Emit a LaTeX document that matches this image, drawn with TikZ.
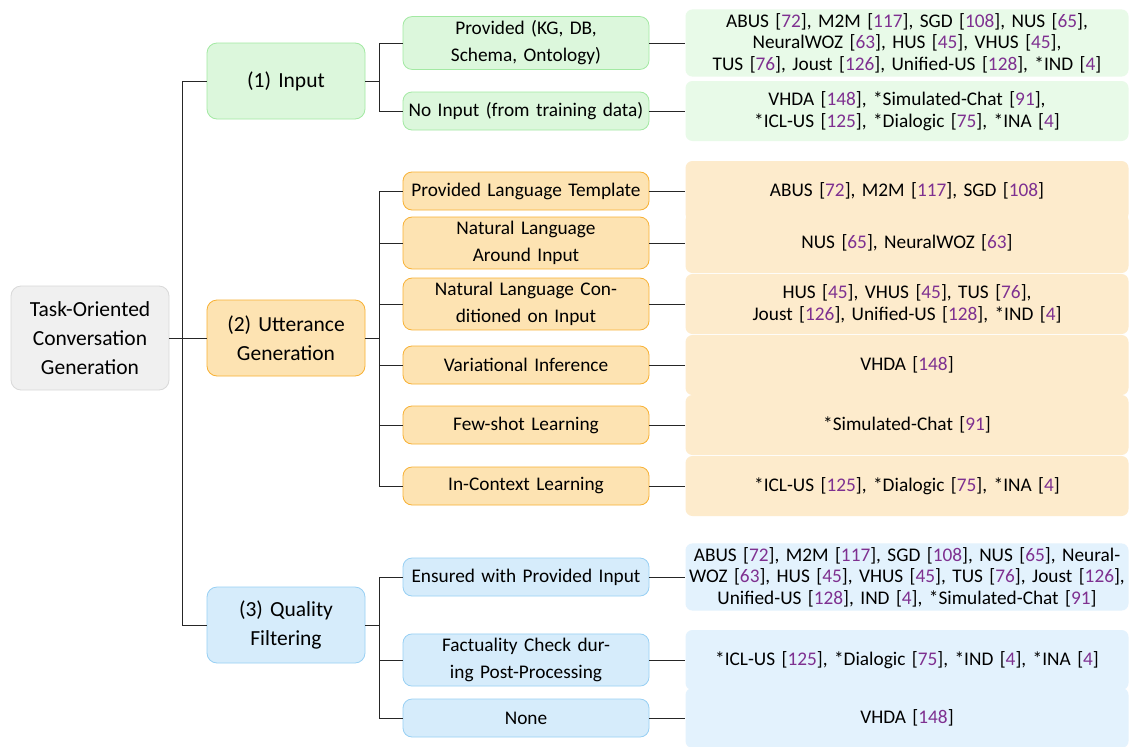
\documentclass[tikz,border=0pt]{standalone}
\usepackage{fontspec}
\setmainfont{Carlito}
\usetikzlibrary{calc}
\usetikzlibrary{positioning}
\definecolor{citecol}{HTML}{7E3090}
\definecolor{rootbg}{HTML}{F0F0F0}
\definecolor{rootln}{HTML}{D9D9D9}
\definecolor{grnbg}{HTML}{DCF7DC}
\definecolor{grnln}{HTML}{A3E9A3}
\definecolor{grnlf}{HTML}{E8FAE8}
\definecolor{orgbg}{HTML}{FDE3B2}
\definecolor{orgln}{HTML}{F8B134}
\definecolor{orglf}{HTML}{FDEBCC}
\definecolor{blubg}{HTML}{D6ECFB}
\definecolor{bluln}{HTML}{98D0F4}
\definecolor{blulf}{HTML}{E3F2FD}
\tikzset{every node/.style={font=\fontsize{19.3}{27}\selectfont}}
\tikzset{
  rootbox/.style={draw=rootln, fill=rootbg, line width=0.8, rounded corners=10,
    font=\fontsize{21.5}{29}\selectfont,
    align=center, text width=152, inner xsep=3, inner ysep=0, minimum height=104},
  lvone/.style={draw=#1ln, fill=#1bg, line width=0.8, rounded corners=10,
    font=\fontsize{21.5}{29}\selectfont,
    align=center, text width=152, inner xsep=3, inner ysep=0, minimum height=76},
  lvtwo/.style={draw=#1ln, fill=#1bg, line width=0.8, rounded corners=9,
    font=\fontsize{19.3}{27}\selectfont,
    align=center, text width=240, inner xsep=3, inner ysep=4.2, minimum height=38},
  leaf/.style={fill=#1lf, rounded corners=7,
    font=\fontsize{19.3}{21.5}\selectfont,
    align=center, text width=437, inner xsep=3, inner ysep=3.8, minimum height=60},
  link/.style={draw=black!85, line width=0.9}
}
\newcommand{\rf}[1]{[\textcolor{citecol}{#1}]}

\begin{document}
\begin{tikzpicture}[x=1pt, y=-1pt]

\fill[white] (0,0) rectangle (1130,747);
\useasboundingbox (0,0) rectangle (1130,747);

% 根节点和第一层
\node[rootbox] (root) at (90,338) {Task-Oriented\\Conversation\\Generation};
\node[lvone=grn] (inp) at (286,81) {(1) Input};
\node[lvone=org] (utt) at (286,338) {(2) Utterance\\Generation};
\node[lvone=blu] (qual) at (286,625) {(3) Quality\\Filtering};

% 第二层
\node[lvtwo=grn] (prov) at (526,43) {Provided (KG, DB,\\Schema, Ontology)};
\node[lvtwo=grn] (noin) at (526,111) {No Input (from training data)};

\node[lvtwo=org] (plt) at (526,191) {Provided Language Template};
\node[lvtwo=org] (nla) at (526,243) {Natural Language\\Around Input};
\node[lvtwo=org] (nlc) at (526,304) {Natural Language Con-\\ditioned on Input};
\node[lvtwo=org] (vi) at (526,365) {Variational Inference};
\node[lvtwo=org] (fs) at (526,425) {Few-shot Learning};
\node[lvtwo=org] (icl) at (526,486) {In-Context Learning};

\node[lvtwo=blu] (ens) at (526,577) {Ensured with Provided Input};
\node[lvtwo=blu] (fact) at (526,660) {Factuality Check dur-\\ing Post-Processing};
\node[lvtwo=blu] (none) at (526,718) {None};

% 叶子
\node[leaf=grn] (prov-lf) at (907,43) {ABUS \rf{72}, M2M \rf{117}, SGD \rf{108}, NUS \rf{65},\\
  NeuralWOZ \rf{63}, HUS \rf{45}, VHUS \rf{45},\\
  TUS \rf{76}, Joust \rf{126}, Unified-US \rf{128}, *IND \rf{4}};
\node[leaf=grn] (noin-lf) at (907,111) {VHDA \rf{148}, *Simulated-Chat \rf{91},\\
  {*}ICL-US \rf{125}, *Dialogic \rf{75}, *INA \rf{4}};

\node[leaf=org] (plt-lf) at (907,191) {ABUS \rf{72}, M2M \rf{117}, SGD \rf{108}};
\node[leaf=org] (nla-lf) at (907,243) {NUS \rf{65}, NeuralWOZ \rf{63}};
\node[leaf=org] (nlc-lf) at (907,304) {HUS \rf{45}, VHUS \rf{45}, TUS \rf{76},\\
  Joust \rf{126}, Unified-US \rf{128}, *IND \rf{4}};
\node[leaf=org] (vi-lf) at (907,365) {VHDA \rf{148}};
\node[leaf=org] (fs-lf) at (907,425) {*Simulated-Chat \rf{91}};
\node[leaf=org] (icl-lf) at (907,486) {*ICL-US \rf{125}, *Dialogic \rf{75}, *INA \rf{4}};

\node[leaf=blu] (ens-lf) at (907,577) {ABUS \rf{72}, M2M \rf{117}, SGD \rf{108}, NUS \rf{65}, Neural-\\
  WOZ \rf{63}, HUS \rf{45}, VHUS \rf{45}, TUS \rf{76}, Joust \rf{126},\\
  Unified-US \rf{128}, IND \rf{4}, *Simulated-Chat \rf{91}};
\node[leaf=blu] (fact-lf) at (907,660) {*ICL-US \rf{125}, *Dialogic \rf{75}, *IND \rf{4}, *INA \rf{4}};
\node[leaf=blu] (none-lf) at (907,718) {VHDA \rf{148}};

% 连线
\coordinate (trunk) at (182,338);
\coordinate (fa) at (379,81);
\coordinate (fb) at (379,338);
\coordinate (fc) at (379,625);

\draw[link] (root.east) -- (utt.west);
\draw[link] (trunk) |- (inp.west);
\draw[link] (trunk) |- (qual.west);

\draw[link] (inp.east) -- (fa);
\draw[link] (utt.east) -- (fb);
\draw[link] (qual.east) -- (fc);
\foreach \c in {prov,noin}
  \draw[link] (fa) |- (\c.west);
\foreach \c in {plt,nla,nlc,vi,fs,icl}
  \draw[link] (fb) |- (\c.west);
\foreach \c in {ens,fact,none}
  \draw[link] (fc) |- (\c.west);

\foreach \c in {prov,noin,plt,nla,nlc,vi,fs,icl,ens,fact,none}
  \draw[link] (\c.east) -- (\c-lf.west);

\end{tikzpicture}
\end{document}
